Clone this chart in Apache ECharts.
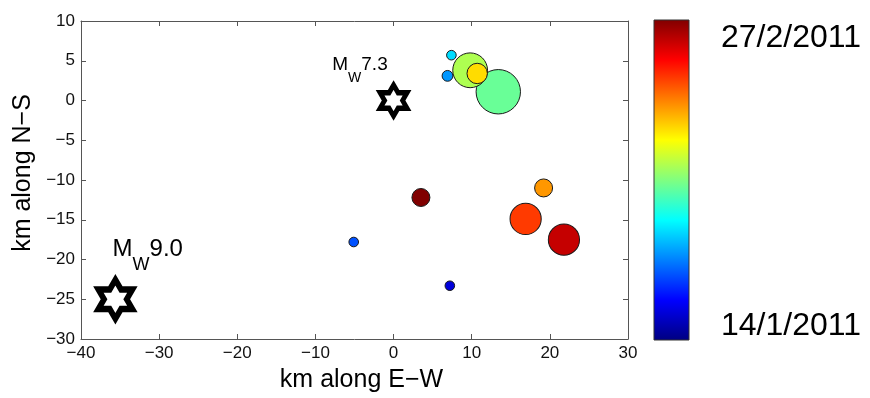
<!DOCTYPE html>
<html><head><meta charset="utf-8">
<script src="https://cdn.jsdelivr.net/npm/echarts@6/dist/echarts.min.js"></script>
<style>html,body{margin:0;padding:0;background:#fff}#c{width:870px;height:398px}</style>
</head><body><div id="c"></div>
<script>
// ---- data ----
const startDate = '2011-01-14';
const endDate = '2011-02-27';
const eqX = [7.2, -5.1, 6.9, 7.4, 13.4, 9.8, 10.7, 19.2, 16.9, 21.8, 3.5];
const eqY = [-23.3, -17.8, 3.1, 5.7, 1.1, 3.8, 3.4, -11.0, -14.9, -17.5, -12.2];
const eqDates = ['2011-01-18','2011-01-23','2011-01-26','2011-01-29','2011-02-04','2011-02-07','2011-02-12','2011-02-15','2011-02-19','2011-02-24','2011-02-27'];
const eqMag = [4.0, 4.0, 4.1, 4.0, 6.9, 6.1, 4.9, 4.7, 5.8, 5.8, 4.7];
const mainX = [0, -35.6];
const mainY = [0, -25];
const mainMw = ['7.3', '9.0'];
const xTickValues = [-40, -30, -20, -10, 0, 10, 20, 30];
const yTickValues = [-30, -25, -20, -15, -10, -5, 0, 5, 10];
const xTitle = 'km along E\u2212W';
const yTitle = 'km along N\u2212S';

// ---- helpers ----
const DAY = 86400000;
const dayOf = d => (Date.parse(d) - Date.parse(startDate)) / DAY;
const fmtDate = d => { const t = new Date(d + 'T00:00:00Z'); return t.getUTCDate() + '/' + (t.getUTCMonth() + 1) + '/' + t.getUTCFullYear(); };
const minus = v => String(v).replace('-', '\u2212');
const jet = ['#000080','#0000ff','#0080ff','#00ffff','#80ff80','#ffff00','#ff8000','#ff0000','#800000'];
const FONT = '"Liberation Sans", Arial, Helvetica, sans-serif';

const hexagram = 'path://M0,-1 L0.2887,-0.5 L0.866,-0.5 L0.5774,0 L0.866,0.5 L0.2887,0.5 L0,1 L-0.2887,0.5 L-0.866,0.5 L-0.5774,0 L-0.866,-0.5 L-0.2887,-0.5 Z';
const starStyle = [
  { size: [27, 31], bw: 5, fs: 19, sfs: 14, sub: 28, pos: [-45.5, -18] },
  { size: [34, 39], bw: 6, fs: 24, sfs: 18, sub: 31, pos: [17, -27] }
];

const chart = echarts.init(document.getElementById('c'), null, { renderer: 'canvas' });

const axisCommon = {
  type: 'value',
  axisLine: { show: true, onZero: false, lineStyle: { color: '#555', width: 1 } },
  axisTick: { show: true, inside: true, length: 5, lineStyle: { color: '#555' } },
  splitLine: { show: false }
};

const xMin = xTickValues[0], xMax = xTickValues[xTickValues.length - 1], xInt = xTickValues[1] - xTickValues[0];
const yMin = yTickValues[0], yMax = yTickValues[yTickValues.length - 1], yInt = yTickValues[1] - yTickValues[0];

// colour bar geometry (style)
const CB = { x: 654, y: 20, w: 35, h: 320 };
const gradStops = jet.map((c, i) => ({ offset: 1 - i / (jet.length - 1), color: c })).reverse();

chart.setOption({
  animation: false,
  backgroundColor: '#fff',
  textStyle: { fontFamily: FONT },
  grid: { left: 81, top: 21, width: 547, height: 318, containLabel: false },
  xAxis: [
    Object.assign({}, axisCommon, {
      position: 'bottom', min: xMin, max: xMax, interval: xInt,
      axisLabel: { fontSize: 17, color: '#111', margin: 6, formatter: minus, fontFamily: FONT },
      name: xTitle, nameLocation: 'middle', nameGap: 29,
      nameTextStyle: { fontSize: 25, color: '#000', fontFamily: FONT, padding: [0, 0, 0, 14] }
    }),
    Object.assign({}, axisCommon, {
      position: 'top', min: xMin, max: xMax, interval: xInt,
      axisLabel: { show: false }
    })
  ],
  yAxis: [
    Object.assign({}, axisCommon, {
      position: 'left', min: yMin, max: yMax, interval: yInt,
      axisLabel: { fontSize: 17, color: '#111', margin: 6, formatter: minus, fontFamily: FONT },
      name: yTitle, nameLocation: 'middle', nameGap: 41, nameRotate: 90,
      nameTextStyle: { fontSize: 25, color: '#000', fontFamily: FONT, padding: [0, 0, 0, 14] }
    }),
    Object.assign({}, axisCommon, {
      position: 'right', min: yMin, max: yMax, interval: yInt,
      axisLabel: { show: false }
    })
  ],
  visualMap: {
    show: false,
    type: 'continuous',
    min: 0, max: dayOf(endDate),
    dimension: 2, seriesIndex: 0,
    inRange: { color: jet }
  },
  graphic: [
    { type: 'rect', x: CB.x, y: CB.y, shape: { width: CB.w, height: CB.h },
      style: { fill: new echarts.graphic.LinearGradient(0, 0, 0, 1, gradStops), stroke: '#333', lineWidth: 1 }, silent: true },
    { type: 'text', x: 721, y: 38, style: { text: fmtDate(endDate), font: '32px ' + FONT, fill: '#000', textVerticalAlign: 'middle' } },
    { type: 'text', x: 721, y: 326, style: { text: fmtDate(startDate), font: '32px ' + FONT, fill: '#000', textVerticalAlign: 'middle' } }
  ],
  series: [
    {
      type: 'scatter',
      xAxisIndex: 0, yAxisIndex: 0,
      data: eqX.map((x, i) => [x, eqY[i], dayOf(eqDates[i]), eqMag[i]]),
      symbol: 'circle',
      symbolSize: v => 12 * (v[3] - 3.2),
      itemStyle: { borderColor: '#1a1a1a', borderWidth: 1, opacity: 1 },
      emphasis: { disabled: true },
      z: 2
    },
    {
      type: 'scatter',
      xAxisIndex: 0, yAxisIndex: 0,
      symbol: hexagram,
      symbolKeepAspect: false,
      z: 3,
      emphasis: { disabled: true },
      data: mainX.map((x, i) => {
        const s = starStyle[i];
        return {
          value: [x, mainY[i]],
          symbolSize: s.size,
          itemStyle: { color: '#fff', borderColor: '#000', borderWidth: s.bw, borderJoin: 'miter', borderMiterLimit: 10, opacity: 1 },
          label: {
            show: true,
            position: s.pos,
            align: 'left', verticalAlign: 'middle',
            formatter: '{m|M}{w|W}{m|' + mainMw[i] + '}',
            rich: {
              m: { fontSize: s.fs, fontFamily: FONT, color: '#000' },
              w: { fontSize: s.sfs, fontFamily: FONT, color: '#000', padding: [s.sub, 0, 0, 0] }
            }
          }
        };
      })
    }
  ]
});
</script></body></html>
